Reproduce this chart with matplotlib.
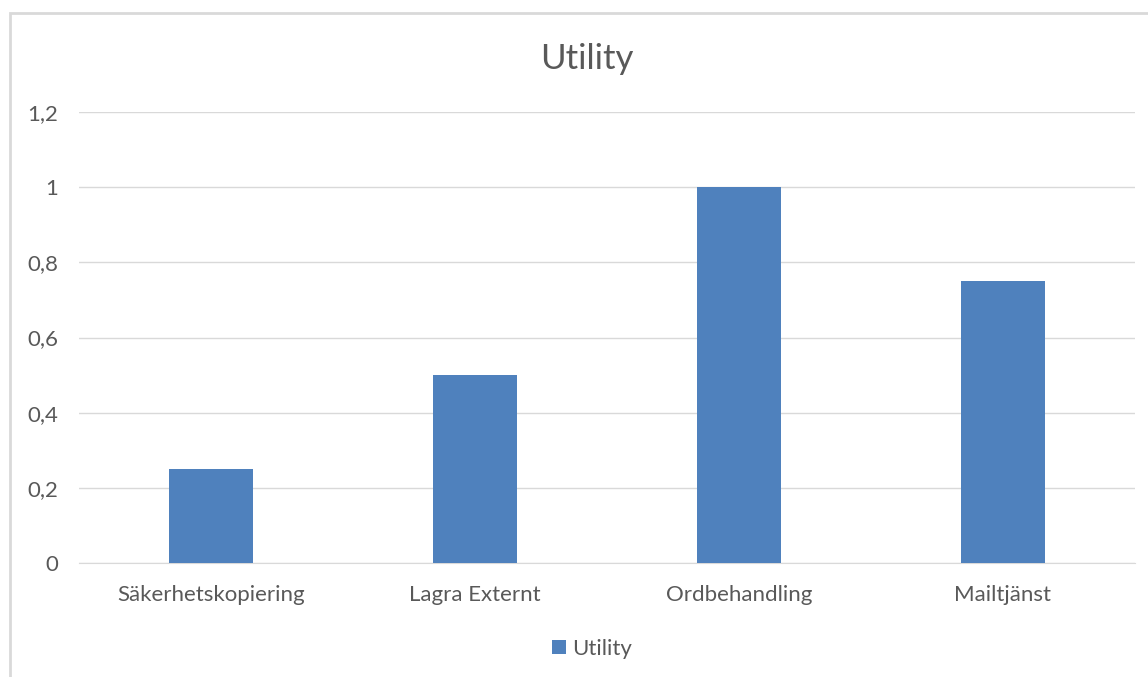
import matplotlib
matplotlib.use("Agg")
import matplotlib.pyplot as plt
from matplotlib.patches import Rectangle
from matplotlib.ticker import FuncFormatter

categories = ["Säkerhetskopiering", "Lagra Externt", "Ordbehandling", "Mailtjänst"]
utility = [0.25, 0.5, 1.0, 0.75]
yticks = [0, 0.2, 0.4, 0.6, 0.8, 1.0, 1.2]

plt.rcParams['font.family'] = ['Lato', 'DejaVu Sans']
text_col = '#595959'
bar_col = '#4f81bd'
grid_col = '#d9d9d9'

fig = plt.figure(figsize=(11.48, 6.77), dpi=100)
ax = fig.add_axes([79 / 1148, 1 - 563 / 677, 1056 / 1148, 451 / 677])

x = range(len(categories))
ax.bar(x, utility, width=0.315, color=bar_col, label='Utility', zorder=3)

ax.set_xlim(-0.5, len(categories) - 0.5)
ax.set_ylim(0, 1.2)
ax.set_yticks(yticks)
ax.yaxis.set_major_formatter(FuncFormatter(lambda v, p: ('%g' % round(v, 1)).replace('.', ',')))
ax.set_xticks(list(x))
ax.set_xticklabels(categories)
ax.grid(axis='y', color=grid_col, linewidth=1, zorder=0)
for s in ['top', 'right', 'left']:
    ax.spines[s].set_visible(False)
ax.spines['bottom'].set_color(grid_col)
ax.tick_params(axis='both', length=0, colors=text_col, labelsize=16)
ax.tick_params(axis='y', pad=15)
ax.tick_params(axis='x', pad=16)

fig.text(587 / 1148, 1 - 59 / 677, 'Utility', ha='center', va='center',
         fontsize=25, color=text_col)

leg = ax.legend(loc='center', bbox_to_anchor=(0.486, -0.19), frameon=False,
                fontsize=16, handlelength=0.6, handleheight=0.6, handletextpad=0.3)
for t in leg.get_texts():
    t.set_color(text_col)

fig.patches.append(Rectangle((10 / 1148, -0.2), 1.2, 1 - 13 / 677 + 0.2,
                             transform=fig.transFigure, fill=False,
                             edgecolor=grid_col, linewidth=2))

fig.savefig('out.png', dpi=100)
